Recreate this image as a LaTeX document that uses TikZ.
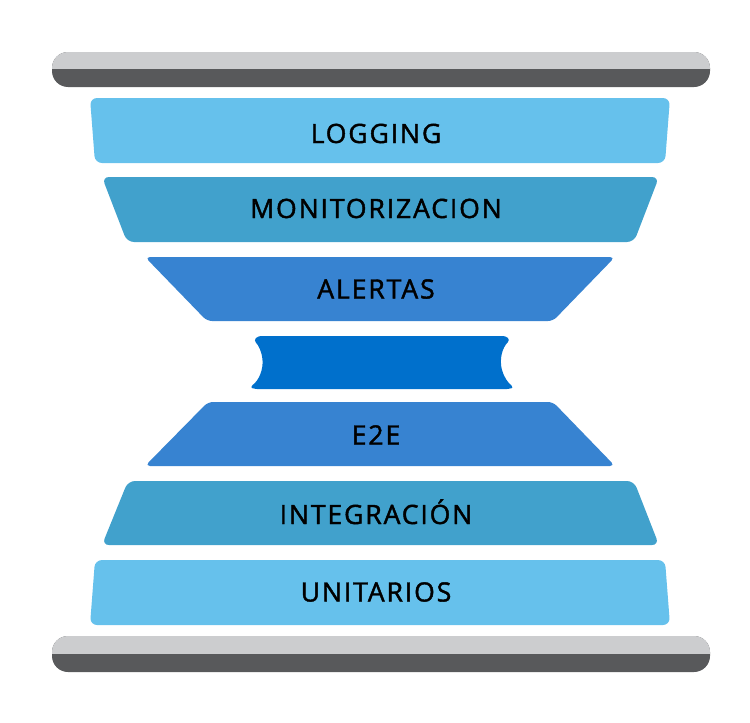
\documentclass[tikz,border=0pt]{standalone}
\usepackage{fontspec}
\setmainfont{Open Sans}
\newfontfamily\lblfont{Open Sans}[FakeBold=1.6, LetterSpace=7]
\begin{document}
\begin{tikzpicture}[x=1pt,y=-1pt]
\definecolor{lightblue}{HTML}{66C1EC}
\definecolor{tealblue}{HTML}{41A1CC}
\definecolor{midblue}{HTML}{3783D1}
\definecolor{deepblue}{HTML}{0070CC}
\definecolor{barlight}{HTML}{CCCDCF}
\definecolor{bardark}{HTML}{58595B}
\tikzset{
  lbl/.style={anchor=base, inner sep=0pt, font=\lblfont\fontsize{26.6}{30}\selectfont, text=black},
}
\useasboundingbox (0,0) rectangle (750,723);
% top bar
\fill[bardark, rounded corners=16] (52,52) rectangle (710,87);
\begin{scope}
  \clip[rounded corners=16] (52,52) rectangle (710,87);
  \fill[barlight] (52,52) rectangle (710,69);
\end{scope}
% bottom bar
\fill[bardark, rounded corners=16] (52,636) rectangle (710,672);
\begin{scope}
  \clip[rounded corners=16] (52,636) rectangle (710,672);
  \fill[barlight] (52,636) rectangle (710,654);
\end{scope}
% layers
\fill[lightblue, rounded corners=7] (90,98) -- (670,98) -- (665,163) -- (95,163) -- cycle;
\fill[tealblue, rounded corners=7] (102,177) -- (659,177) -- (634,242) -- (127,242) -- cycle;
\fill[midblue, rounded corners=5] (145,257) -- (615,257) -- (553,321) -- (207,321) -- cycle;
\fill[deepblue, rounded corners=3] (258,336) -- (506,336) -- (510,340)
   arc[start angle=225, end angle=126, radius=31] -- (510,389) -- (254,389) -- (250,387)
   arc[start angle=53.6, end angle=-44.5, radius=31] -- cycle;
\fill[midblue, rounded corners=5] (208,402) -- (553,402) -- (615,466) -- (145,466) -- cycle;
\fill[tealblue, rounded corners=7] (128,481) -- (634,481) -- (659,545) -- (102,545) -- cycle;
\fill[lightblue, rounded corners=7] (95,560) -- (665,560) -- (670,625) -- (90,625) -- cycle;
% labels
\node[lbl] (logging) at (376,143) {LOGGING};
\node[lbl] (monit) at (376,218) {MONITORIZACION};
\node[lbl] (alertas) at (376,298.5) {ALERTAS};
\node[lbl] (e2e) at (376,444.5) {E2E};
\node[lbl] (integ) at (376,524) {INTEGRACIÓN};
\node[lbl] (unit) at (376,601.5) {UNITARIOS};
\end{tikzpicture}
\end{document}
